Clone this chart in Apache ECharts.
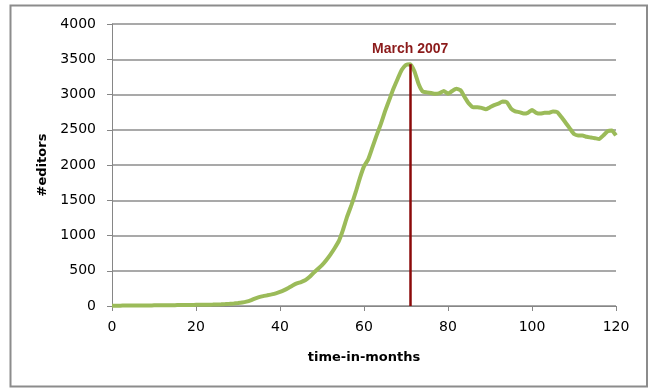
<!DOCTYPE html>
<html>
<head>
<meta charset="utf-8">
<script src="https://cdn.jsdelivr.net/npm/echarts@6/dist/echarts.min.js"></script>
<style>
  html, body { margin: 0; padding: 0; background: #fff; }
  #chart { width: 650px; height: 388px; }
</style>
</head>
<body>
<div id="chart"></div>
<script>
// Monthly count of active editors, month 0 .. 120
const months = Array.from({ length: 121 }, (_, i) => i);
const editors = [
  5, 5, 5, 6, 6, 6, 7, 7, 8, 8,
  9, 9, 10, 10, 11, 12, 13, 14, 14, 15,
  16, 17, 18, 19, 20, 22, 24, 27, 31, 36,
  42, 50, 62, 80, 105, 125, 140, 152, 165, 180,
  200, 225, 255, 290, 320, 340, 365, 410, 470, 525,
  580, 650, 730, 820, 920, 1080, 1270, 1430, 1610, 1810,
  1980, 2080, 2250, 2420, 2580, 2760, 2920, 3080, 3220, 3350,
  3420, 3430, 3330, 3150, 3040, 3030, 3020, 3010, 3020, 3050,
  3010, 3050, 3080, 3060, 2960, 2870, 2820, 2820, 2810, 2790,
  2820, 2850, 2870, 2900, 2890, 2800, 2760, 2750, 2730, 2740,
  2780, 2740, 2730, 2740, 2740, 2760, 2750, 2680, 2600, 2520,
  2440, 2420, 2420, 2400, 2390, 2380, 2370, 2420, 2480, 2490,
  2420
];

// Peak month marker
const peakMonth = 71;
const peakValue = 3430;
const peakLabel = 'March 2007';

const xTicks = [0, 20, 40, 60, 80, 100, 120];
const yTicks = [0, 500, 1000, 1500, 2000, 2500, 3000, 3500, 4000];

const tickFont = "'DejaVu Sans', 'Liberation Sans', sans-serif";
const titleFont = "'DejaVu Sans', 'Liberation Sans', sans-serif";

const chart = echarts.init(document.getElementById('chart'), null, { renderer: 'canvas' });

chart.setOption({
  animation: false,
  backgroundColor: '#ffffff',
  grid: { left: 112, right: 34, top: 24, bottom: 82, containLabel: false },
  graphic: [{
    type: 'rect',
    shape: { x: 10.5, y: 5.5, width: 636.5, height: 381 },
    style: { fill: 'none', stroke: '#8c8c8c', lineWidth: 2 },
    silent: true
  }],
  xAxis: {
    type: 'value',
    min: xTicks[0],
    max: xTicks[xTicks.length - 1],
    interval: 20,
    name: 'time-in-months',
    nameLocation: 'middle',
    nameGap: 45,
    nameTextStyle: { fontFamily: titleFont, fontWeight: 'bold', fontSize: 13, color: '#000' },
    axisLine: { show: true, lineStyle: { color: '#868686', width: 1 } },
    axisTick: { show: true, inside: false, length: 5, lineStyle: { color: '#868686' } },
    axisLabel: { fontFamily: tickFont, fontSize: 14, color: '#000', margin: 14,
                 formatter: v => String(v) },
    splitLine: { show: false }
  },
  yAxis: {
    type: 'value',
    min: yTicks[0],
    max: yTicks[yTicks.length - 1],
    interval: 500,
    name: '#editors',
    nameLocation: 'middle',
    nameGap: 56,
    nameRotate: 90,
    nameTextStyle: { fontFamily: titleFont, fontWeight: 'bold', fontSize: 13, color: '#000' },
    axisLine: { show: true, lineStyle: { color: '#868686', width: 1 } },
    axisTick: { show: true, inside: false, length: 5, lineStyle: { color: '#868686' } },
    axisLabel: { fontFamily: tickFont, fontSize: 14, color: '#000', margin: 16,
                 formatter: v => String(v) },
    splitLine: { show: true, lineStyle: { color: '#8c8c8c', width: 1.5 } }
  },
  series: [{
    type: 'line',
    data: months.map((m, i) => [m, editors[i]]),
    showSymbol: false,
    smooth: 0.15,
    lineStyle: { color: '#9bbb59', width: 4 },
    z: 3,
    markLine: {
      silent: true,
      symbol: ['none', 'none'],
      animation: false,
      lineStyle: { color: '#8b0a0a', width: 2.5, type: 'solid' },
      label: {
        show: true,
        position: 'end',
        distance: 8,
        formatter: peakLabel,
        fontFamily: "'Liberation Sans', sans-serif",
        fontWeight: 'bold',
        fontSize: 14,
        color: '#8b1a1a'
      },
      data: [[
        { coord: [peakMonth, 0] },
        { coord: [peakMonth, peakValue] }
      ]]
    }
  }]
});
</script>
</body>
</html>
